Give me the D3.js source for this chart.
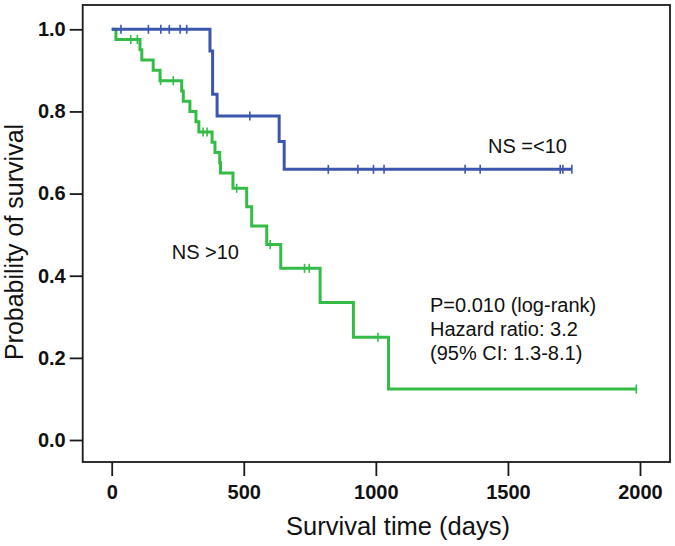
<!DOCTYPE html>
<html><head><meta charset="utf-8">
<script src="https://cdn.jsdelivr.net/npm/d3@7"></script>
<style>
html,body{margin:0;padding:0;background:#fff;}
svg{display:block;font-family:"Liberation Sans",Arial,sans-serif;}
</style></head>
<body>
<svg id="chart" width="675" height="546"></svg>
<script>
// ---- data ----
const xTicks = [0, 500, 1000, 1500, 2000];
const yTicks = [0.0, 0.2, 0.4, 0.6, 0.8, 1.0];

// Group NS =<10 (blue)
const blueEventTimes = [372, 382, 399, 634, 653];
const blueSurvival   = [0.947, 0.842, 0.789, 0.727, 0.659];
const blueCensorTimes = [35, 139, 186, 218, 259, 284, 523, 820, 932, 991, 1031, 1338, 1395, 1698, 1708, 1742];
const blueEnd = 1742;

// Group NS >10 (green)
const greenEventTimes = [16, 107, 114, 157, 183, 265, 271, 296, 319, 330, 380, 391, 409, 412, 459, 511, 530, 587, 640, 789, 915, 1048];
const greenSurvival   = [0.975, 0.95, 0.925, 0.9, 0.875, 0.85, 0.825, 0.8, 0.775, 0.75, 0.725, 0.7, 0.675, 0.65, 0.613, 0.568, 0.521, 0.476, 0.418, 0.335, 0.25, 0.124];
const greenCensorTimes = [72, 97, 185, 233, 346, 361, 473, 600, 730, 748, 1008, 1986];
const greenEnd = 1986;

const labelBlue = "NS =<10";
const labelGreen = "NS >10";
const statLines = ["P=0.010 (log-rank)", "Hazard ratio: 3.2", "(95% CI: 1.3-8.1)"];

// ---- layout ----
const svg = d3.select("#chart");
const frame = {left: 82.7, right: 670, top: 5, bottom: 462};
const x = d3.scaleLinear().domain([0, 2000]).range([111.7, 640]);
const y = d3.scaleLinear().domain([0, 1]).range([440, 29.3]);

const blueColor = "#3d56ad";
const greenColor = "#34bc47";

// frame
svg.append("rect")
  .attr("x", frame.left).attr("y", frame.top)
  .attr("width", frame.right - frame.left).attr("height", frame.bottom - frame.top)
  .attr("fill", "none").attr("stroke", "#1a1a1a").attr("stroke-width", 1.8);

// axes
const yAxis = d3.axisLeft(y).tickValues(yTicks).tickFormat(d3.format(".1f")).tickSize(13).tickPadding(4);
const gy = svg.append("g").attr("transform", `translate(${frame.left},0)`).call(yAxis);
gy.select(".domain").remove();
gy.selectAll("line").attr("stroke", "#1a1a1a").attr("stroke-width", 1.8);
gy.selectAll("text").attr("font-size", 20).attr("font-weight", "bold").attr("fill", "#111")
  .attr("font-family", "Liberation Sans, Arial, sans-serif");

const xAxis = d3.axisBottom(x).tickValues(xTicks).tickFormat(d3.format("d")).tickSize(14).tickPadding(9);
const gx = svg.append("g").attr("transform", `translate(0,${frame.bottom})`).call(xAxis);
gx.select(".domain").remove();
gx.selectAll("line").attr("stroke", "#1a1a1a").attr("stroke-width", 1.8);
gx.selectAll("text").attr("font-size", 20).attr("font-weight", "bold").attr("fill", "#111")
  .attr("font-family", "Liberation Sans, Arial, sans-serif");

// axis titles
svg.append("text").attr("x", 398).attr("y", 535).attr("text-anchor", "middle")
  .attr("font-size", 25.5).attr("fill", "#111").text("Survival time (days)");
svg.append("text").attr("transform", "translate(23,242) rotate(-90)").attr("text-anchor", "middle")
  .attr("font-size", 25).attr("fill", "#111").text("Probability of survival");

// curves
function stepPoints(times, surv, end) {
  const pts = [[0, 1]];
  times.forEach((t, i) => pts.push([t, surv[i]]));
  pts.push([end, surv[surv.length - 1]]);
  return pts;
}
function survAt(times, surv, t) {
  let s = 1;
  for (let i = 0; i < times.length; i++) if (times[i] <= t) s = surv[i];
  return s;
}
const line = d3.line().x(d => x(d[0])).y(d => y(d[1])).curve(d3.curveStepAfter);

function drawGroup(times, surv, censors, end, color) {
  svg.append("path").datum(stepPoints(times, surv, end))
    .attr("d", line).attr("fill", "none").attr("stroke", color).attr("stroke-width", 3);
  svg.append("g").selectAll("line").data(censors).join("line")
    .attr("x1", d => x(d)).attr("x2", d => x(d))
    .attr("y1", d => y(survAt(times, surv, d)) - 4.5)
    .attr("y2", d => y(survAt(times, surv, d)) + 4.5)
    .attr("stroke", color).attr("stroke-width", 1.6);
}
drawGroup(greenEventTimes, greenSurvival, greenCensorTimes, greenEnd, greenColor);
drawGroup(blueEventTimes, blueSurvival, blueCensorTimes, blueEnd, blueColor);

// annotations
svg.append("text").attr("x", 488).attr("y", 153).attr("font-size", 20).attr("fill", "#111").text(labelBlue);
svg.append("text").attr("x", 171.7).attr("y", 259.3).attr("font-size", 20).attr("fill", "#111").text(labelGreen);
svg.append("g").selectAll("text").data(statLines).join("text")
  .attr("x", 430).attr("y", (d, i) => 311.7 + i * 24.3)
  .attr("font-size", 20).attr("fill", "#111").text(d => d);
</script>
</body></html>
